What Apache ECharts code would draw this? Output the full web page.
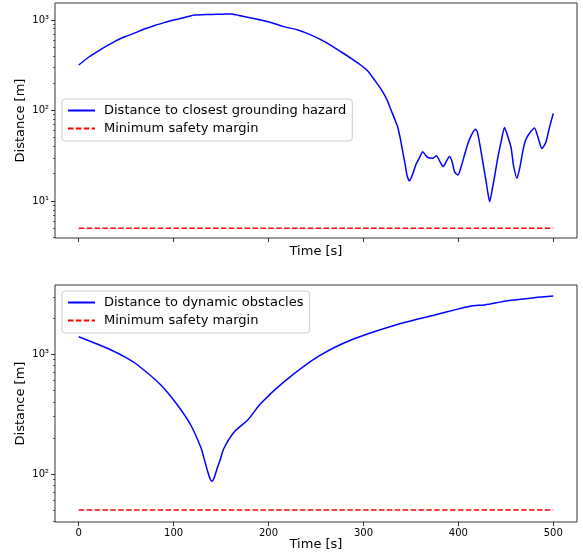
<!DOCTYPE html>
<html><head><meta charset="utf-8">
<script src="https://cdn.jsdelivr.net/npm/echarts@6/dist/echarts.min.js"></script>
<style>html,body{margin:0;padding:0;background:#fff}#c{width:583px;height:555px}</style>
</head><body><div id="c"></div>
<script>
// ---- data ----
const groundTime = [0,10,20,30,40,50,60,70,80,90,100,108,115,122,130,138,145,152,160,168,178,188,195,205,215,231,245,260,276,287,297,305,312,319,325,329,333,336,339,341,344,346,348.5,352,355.5,359,362.5,366,368.5,373,377,380,384,387,390.6,393.5,396,399.5,403,406,410,414,418,420,423,426,429,431,433,436,439,441.5,445,448.6,452,455.7,458,461.7,465,468,470.8,475,480.3,484,488,492,496,500];
const groundDist = [318,385,450,520,595,660,725,800,870,935,1000,1045,1090,1136,1145,1150,1156,1160,1165,1130,1070,1020,982,920,850,775,680,570,447,377,318,270,215,169,130,101,80,66,48,37,25,19,16.7,20,25.6,30,35,31.5,30,29.7,31.7,28,24,27,31,27,21,19.4,24,31,43,54,62,58,40,26,17,12.5,9.8,14,21,30,45,65,52,38,25,17.8,24,36,47,56,64,50,38,44,65,93];
const dynTime = [0,20,34,48,62,86.5,104,118,129,132,136,138,140,142,146,149,153,164,178,192,216.5,252,287,340,375,415,427.5,452,480,500];
const dynDist = [1393,1205,1080,950,810,552,376,256,164,135,104,93,87,90,112,131,164,225,282,388,588,950,1309,1803,2113,2528,2560,2780,2944,3040];
const marginTime = [0,500];
const groundMargin = [5,5];
const dynMargin = [50,50];
const xTicks = [0,100,200,300,400,500];
const topMajor = [10,100,1000];
const topMinor = [4,5,6,7,8,9,20,30,40,50,60,70,80,90,200,300,400,500,600,700,800,900];
const botMajor = [100,1000];
const botMinor = [40,50,60,70,80,90,200,300,400,500,600,700,800,900,2000,3000];
const superDigits = {'1':'\u00b9','2':'\u00b2','3':'\u00b3'};
const names = {ground:'Distance to closest grounding hazard', dyn:'Distance to dynamic obstacles', margin:'Minimum safety margin'};

const zip = (a,b)=>a.map((v,i)=>[v,b[i]]);
const FONT = 'DejaVu Sans';
const chart = echarts.init(document.getElementById('c'));

function xAxis(grid, labels, gap){
  return {type:'value', gridIndex:grid, min:-25, max:525, position:'bottom',
    name:'Time [s]', nameLocation:'middle', nameGap:gap, nameMoveOverlap:false,
    nameTextStyle:{fontFamily:FONT,fontSize:13,color:'#000'},
    axisLine:{show:false,onZero:false}, splitLine:{show:false},
    axisTick:{show:true,length:4,lineStyle:{color:'#000',width:0.8},customValues:xTicks},
    axisLabel:{show:labels,customValues:xTicks,fontFamily:FONT,fontSize:10,color:'#000',margin:6}};
}
function yMajor(grid,min,max,ticks,gap){
  return {type:'log', logBase:10, gridIndex:grid, min:min, max:max, position:'left',
    name:'Distance [m]', nameLocation:'middle', nameGap:gap, nameMoveOverlap:false,
    nameTextStyle:{fontFamily:FONT,fontSize:13,color:'#000'},
    axisLine:{show:false,onZero:false}, splitLine:{show:false}, minorTick:{show:false},
    axisTick:{show:true,length:4,lineStyle:{color:'#000',width:0.8},customValues:ticks},
    axisLabel:{customValues:ticks,margin:6,fontFamily:FONT,fontSize:10,color:'#000',
      formatter:v=>'10'+superDigits[String(Math.round(Math.log10(v)))]}};
}
function yMinor(grid,min,max,ticks){
  return {type:'log', logBase:10, gridIndex:grid, min:min, max:max, position:'left', offset:0,
    axisLine:{show:false,onZero:false}, splitLine:{show:false}, axisLabel:{show:false},
    axisTick:{show:true,length:2,lineStyle:{color:'#000',width:0.6},customValues:ticks}};
}
function legend(top,data){
  return {orient:'vertical', left:62, top:top, data:data,
    itemWidth:27, itemHeight:14, itemGap:5, padding:[5,6,6,5],
    itemStyle:{opacity:0},
    backgroundColor:'rgba(255,255,255,0.8)', borderColor:'#cccccc', borderWidth:1, borderRadius:3,
    textStyle:{fontFamily:FONT,fontSize:13,color:'#000',padding:[0,0,0,4]}};
}
const blue = {color:'#0000ff',width:1.5};
const red = {color:'#ff0000',width:1.5,type:[5.5,2.4]};

chart.setOption({
  animation:false,
  backgroundColor:'#fff',
  grid:[
    {left:55,right:6,top:3,height:235,show:true,borderColor:'#000',borderWidth:0.8,backgroundColor:'transparent'},
    {left:55,right:6,top:285,height:237,show:true,borderColor:'#000',borderWidth:0.8,backgroundColor:'transparent'}
  ],
  xAxis:[xAxis(0,false,7), xAxis(1,true,16)],
  yAxis:[yMajor(0,3.9,1540,topMajor,28), yMinor(0,3.9,1540,topMinor),
         yMajor(1,39.8,3760,botMajor,28), yMinor(1,39.8,3760,botMinor)],
  legend:[legend(99,[names.ground,names.margin]), legend(291,[names.dyn,names.margin])],
  series:[
    {name:names.ground,type:'line',xAxisIndex:0,yAxisIndex:0,data:zip(groundTime,groundDist),showSymbol:false,symbol:'none',smooth:0.2,lineStyle:blue,itemStyle:{color:'#0000ff'},z:2},
    {name:names.margin,type:'line',xAxisIndex:0,yAxisIndex:0,data:zip(marginTime,groundMargin),symbol:'none',lineStyle:red,itemStyle:{color:'#ff0000'},z:2},
    {name:names.dyn,type:'line',xAxisIndex:1,yAxisIndex:2,data:zip(dynTime,dynDist),symbol:'none',smooth:0.3,lineStyle:blue,itemStyle:{color:'#0000ff'},z:2},
    {name:names.margin,type:'line',xAxisIndex:1,yAxisIndex:2,data:zip(marginTime,dynMargin),symbol:'none',lineStyle:red,itemStyle:{color:'#ff0000'},z:2}
  ]
});
</script></body></html>
